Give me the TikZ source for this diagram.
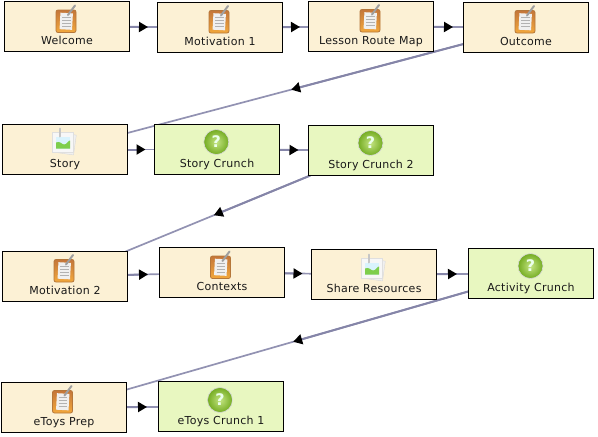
\documentclass[tikz,border=0pt]{standalone}
\usepackage{fontspec}
\setmainfont{DejaVu Sans}
\usetikzlibrary{arrows.meta, shadings, backgrounds}
\definecolor{notefill}{HTML}{FCF1D5}
\definecolor{crunchfill}{HTML}{E8F7C0}
\definecolor{linkblue}{HTML}{9292B2}
\definecolor{linkdark}{HTML}{8585A8}
\definecolor{clipboardtop}{HTML}{C4763A}
\definecolor{clipboardlow}{HTML}{F2A83C}
\definecolor{clipboarddark}{HTML}{B5773A}
\definecolor{quizlight}{HTML}{C4E482}
\definecolor{quizdark}{HTML}{74AC22}
\tikzset{
  stepbase/.style={draw=black, line width=1pt, minimum width=125pt, inner sep=0pt, outer sep=0pt,
    text height=42.5pt, text depth=7.5pt, font=\fontsize{11}{12}\selectfont\addfontfeature{LetterSpace=2.5}, text=black!90},
  notebox/.style={stepbase, fill=notefill},
  crunchbox/.style={stepbase, fill=crunchfill},
  linkline/.style={line width=1.7pt, linkblue},
  linkhalf/.style={line width=2pt, linkdark, -{Triangle[length=9pt,width=10pt,color=black]}, shorten >=-4.5pt},
  pics/noteicon/.style={code={
    % Tablilla naranja
    \draw[clipboarddark, line width=0.8pt, top color=clipboardtop, bottom color=clipboardlow, rounded corners=2pt] (-10,-11) rectangle (10,11.5);
    % Hoja
    \fill[white!94!black, rotate=-3] (-6,-8) rectangle (6.5,8.5);
    \foreach \y in {-4,-1,2,5} {
      \draw[gray!60, line width=0.5pt] (-4,\y) -- (4.5,\y);
    }
    % Lapiz
    \draw[gray!75, line width=2pt, line cap=round] (2,-6) -- (9,-15.5);
  }},
  pics/photoicon/.style={code={
    % Hojas de la foto
    \fill[gray!12, draw=gray!30, line width=0.4pt, rotate=-8] (-10,-10) rectangle (11,10);
    \fill[white!97!black, draw=gray!25, line width=0.4pt] (-12,-11) rectangle (9,9);
    % Imagen
    \fill[cyan!15] (-8,-7) rectangle (6,5);
    \fill[green!45!olive!70] (-8,5) -- (-8,-1) .. controls (-4,-3) and (-2,1) .. (0,1) .. controls (3,1) and (4,-3) .. (6,-3) -- (6,5) -- cycle;
    % Clip
    \draw[gray!45, line width=2pt, line cap=round] (-4,-7) -- (-4,-15);
  }},
  pics/quizicon/.style={code={
    \shade[inner color=quizlight, outer color=quizdark, draw=gray!30, line width=0.6pt] (0,0) circle (12.5);
    \node[font=\bfseries\fontsize{16}{16}\selectfont, text=white!92!green] (-mark) at (0,0) {?};
  }},
}
\newcommand{\steplink}[3]{
  \draw[linkline] (#1) -- coordinate[midway] (#3) (#2);
  \draw[linkhalf] (#1) -- (#3);
}
\begin{document}
\begin{tikzpicture}[x=1pt, y=-1pt]
  \useasboundingbox (0,0) rectangle (598,437);

  % Fila 1
  \node[notebox] (welcome) at (67,26.5) {Welcome};
  \node[notebox] (motivationone) at (220,27.5) {Motivation 1};
  \node[notebox] (routemap) at (371,26.5) {Lesson Route Map};
  \node[notebox] (outcome) at (526,27.5) {Outcome};

  % Fila 2
  \node[notebox] (story) at (65,149.5) {Story};
  \node[crunchbox] (storycrunch) at (217,149.5) {Story Crunch};
  \node[crunchbox] (storycrunchtwo) at (371,150.5) {Story Crunch 2};

  % Fila 3
  \node[notebox] (motivationtwo) at (65,276.5) {Motivation 2};
  \node[notebox] (contexts) at (222,272.5) {Contexts};
  \node[notebox] (resources) at (374,274.5) {Share Resources};
  \node[crunchbox] (activitycrunch) at (531,273.5) {Activity Crunch};

  % Fila 4
  \node[notebox] (etoysprep) at (64,407.5) {eToys Prep};
  \node[crunchbox] (etoyscrunch) at (221,406.5) {eToys Crunch 1};

  % Iconos
  \foreach \x/\y in {66/21, 219/21.5, 370/20.5, 525/21.5, 64/270.5, 220.5/267, 62.5/401.5} {
    \pic at (\x,\y) {noteicon};
  }
  \foreach \x/\y in {64/143.5, 373/269.5} {
    \pic at (\x,\y) {photoicon};
  }
  \foreach \x/\y in {216.3/142, 370.5/143, 530.5/266, 220/400} {
    \pic at (\x,\y) {quizicon};
  }

  % Conectores
  \begin{scope}[on background layer]
    \steplink{welcome}{motivationone}{linka}
    \steplink{motivationone}{routemap}{linkb}
    \steplink{routemap}{outcome}{linkc}
    \steplink{outcome}{story}{linkd}
    \steplink{story}{storycrunch}{linke}
    \steplink{storycrunch}{storycrunchtwo}{linkf}
    \steplink{storycrunchtwo}{motivationtwo}{linkg}
    \steplink{motivationtwo}{contexts}{linkh}
    \steplink{contexts}{resources}{linki}
    \steplink{resources}{activitycrunch}{linkj}
    \steplink{activitycrunch}{etoysprep}{linkk}
    \steplink{etoysprep}{etoyscrunch}{linkl}
  \end{scope}
\end{tikzpicture}
\end{document}
